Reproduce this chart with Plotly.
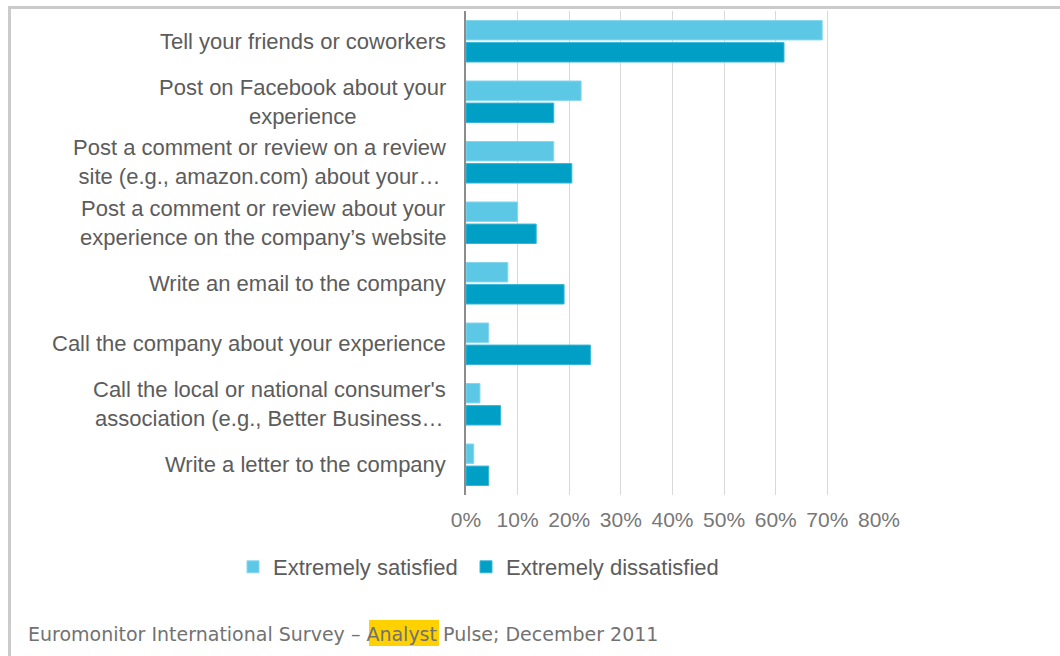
import plotly.graph_objects as go

# Survey: what consumers do after an extremely good or bad experience
categories = [
    "Tell your friends or coworkers",
    "Post on Facebook about your\nexperience",
    "Post a comment or review on a review\nsite (e.g., amazon.com) about your…",
    "Post a comment or review about your\nexperience on the company’s website",
    "Write an email to the company",
    "Call the company about your experience",
    "Call the local or national consumer's\nassociation (e.g., Better Business…",
    "Write a letter to the company",
]
satisfied = [69.0, 22.3, 17.0, 10.0, 8.1, 4.4, 2.7, 1.5]
dissatisfied = [61.6, 17.0, 20.5, 13.6, 19.0, 24.1, 6.7, 4.4]
x_ticks = [0, 10, 20, 30, 40, 50, 60, 70, 80]
series_names = ["Extremely satisfied", "Extremely dissatisfied"]
source_text = "Euromonitor International Survey – Analyst Pulse; December 2011"

W, H = 1060, 656
M_L, M_R, M_T, M_B = 466, 181, 11, 161
PW = W - M_L - M_R
PH = H - M_T - M_B


def px2x(px):
    return (px - M_L) / PW


def px2y(py):
    return (H - M_B - py) / PH


LABEL_FONT = "Liberation Sans, Arial, sans-serif"
TEXT_GREY = "#5C5C5C"
labels = [c.replace("\n", "<br>") for c in categories]

fig = go.Figure()
fig.add_trace(go.Bar(
    y=labels, x=satisfied, orientation="h", name=series_names[0],
    marker=dict(color="#5DC8E6", line=dict(color="#86D7EE", width=1)),
    legend="legend",
))
fig.add_trace(go.Bar(
    y=labels, x=dissatisfied, orientation="h", name=series_names[1],
    marker=dict(color="#00A0C6", line=dict(color="#38B6D9", width=1)),
    legend="legend2",
))

# category labels, centred line by line and right-aligned next to the axis
annotations = []
for lab in labels:
    annotations.append(dict(
        x=0, xref="paper", y=lab, yref="y", xanchor="right", yanchor="middle",
        xshift=-18, text=lab, align="center", showarrow=False,
        font=dict(family=LABEL_FONT, size=22, color=TEXT_GREY),
    ))

# source line at the bottom of the frame
annotations.append(dict(
    x=px2x(26), xref="paper", y=px2y(634), yref="paper",
    xanchor="left", yanchor="middle", text=source_text, showarrow=False,
    font=dict(family="DejaVu Sans, Verdana, sans-serif", size=19, color="#727272"),
))

shapes = [
    # highlight behind "Analyst"
    dict(type="rect", xref="paper", yref="paper", layer="below",
         x0=px2x(369), x1=px2x(439), y0=px2y(646), y1=px2y(620),
         fillcolor="#FFD100", line=dict(width=0)),
    # frame: top and left edges
    dict(type="line", xref="paper", yref="paper",
         x0=px2x(8), x1=px2x(1062), y0=px2y(7.5), y1=px2y(7.5),
         line=dict(color="#CBCBCB", width=3)),
    dict(type="line", xref="paper", yref="paper",
         x0=px2x(9.5), x1=px2x(9.5), y0=px2y(6), y1=px2y(660),
         line=dict(color="#CBCBCB", width=3)),
]

legend_common = dict(
    orientation="h", xanchor="left", y=px2y(567), yanchor="middle",
    font=dict(family=LABEL_FONT, size=22, color=TEXT_GREY),
    bgcolor="rgba(0,0,0,0)",
)

fig.update_layout(
    width=W, height=H,
    margin=dict(l=M_L, r=M_R, t=M_T, b=M_B, pad=0),
    paper_bgcolor="white", plot_bgcolor="white",
    barmode="group", bargap=0.27, bargroupgap=0.12,
    font=dict(family=LABEL_FONT, color=TEXT_GREY),
    xaxis=dict(
        range=[0, 80], tickvals=x_ticks, ticktext=[f"{v}%" for v in x_ticks],
        showgrid=True, gridcolor="#D9D9D9", gridwidth=1,
        zeroline=False, showline=False, ticks="", ticklabelstandoff=10,
        tickfont=dict(family=LABEL_FONT, size=21, color="#777777"),
        fixedrange=True,
    ),
    yaxis=dict(
        autorange="reversed", showticklabels=False, ticks="",
        showgrid=False, showline=True, linecolor="#8C8C8C", linewidth=1.5,
        fixedrange=True,
    ),
    showlegend=True,
    legend=dict(x=px2x(233), **legend_common),
    legend2=dict(x=px2x(466), **legend_common),
    annotations=annotations,
    shapes=shapes,
)

fig.write_html("out.html", config={"displayModeBar": False})
